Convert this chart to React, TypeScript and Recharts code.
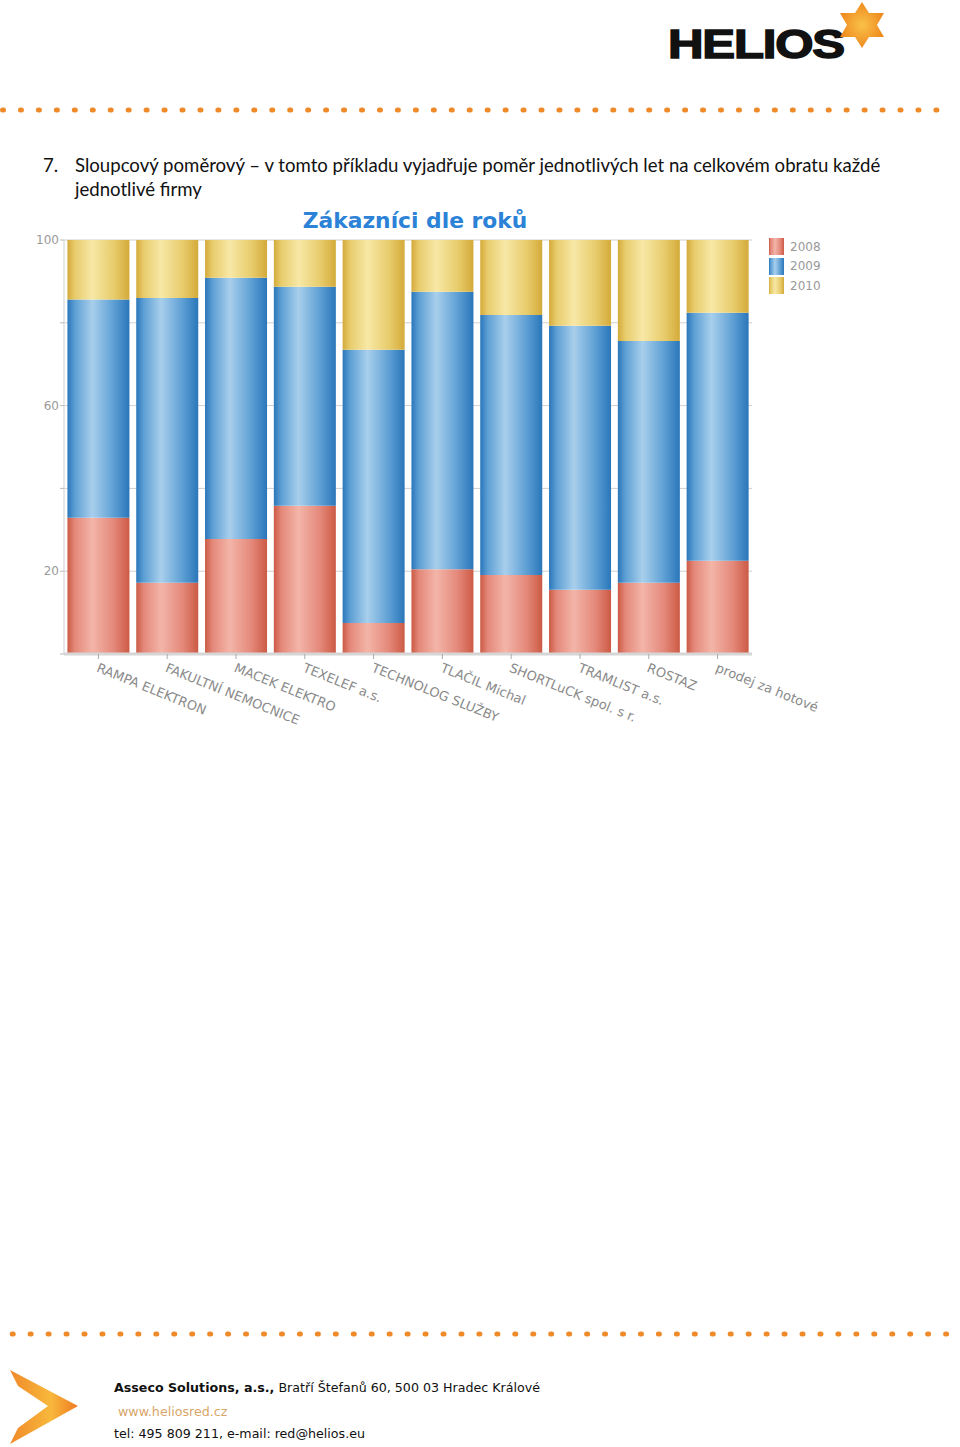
import React from 'react';
import { BarChart, Bar, XAxis, YAxis, CartesianGrid, Legend } from 'recharts';

const companies = [
  'RAMPA ELEKTRON',
  'FAKULTNÍ NEMOCNICE',
  'MACEK ELEKTRO',
  'TEXELEF a.s.',
  'TECHNOLOG SLUŽBY',
  'TLAČIL Michal',
  'SHORTLuCK spol. s r.',
  'TRAMLIST a.s.',
  'ROSTAZ',
  'prodej za hotové',
];
const share2008 = [32.9, 17.2, 27.8, 35.8, 7.5, 20.5, 19.1, 15.5, 17.2, 22.5];
const share2009 = [52.7, 68.8, 63.1, 52.9, 66.0, 67.0, 62.8, 63.8, 58.4, 59.9];
const share2010 = [14.4, 14.0, 9.1, 11.3, 26.5, 12.5, 18.1, 20.7, 24.4, 17.6];
const years = ['2008', '2009', '2010'];
const yTicks = [0, 20, 40, 60, 80, 100];
const yLabelTicks = [20, 60, 100];

const data = companies.map((name, i) => ({
  name,
  y2008: share2008[i],
  y2009: share2009[i],
  y2010: share2010[i],
}));

const palettes: Record<string, { dark: string; mid: string; light: string }> = {
  '2008': { dark: '#cc5a44', mid: '#e4887a', light: '#f3b5a8' },
  '2009': { dark: '#2a76ba', mid: '#5d9fd4', light: '#a8cfec' },
  '2010': { dark: '#d4aa3a', mid: '#e8cc6c', light: '#f7e8a6' },
};

const Grad = ({ id, p }: { id: string; p: { dark: string; mid: string; light: string } }) => (
  <linearGradient id={id} x1="0" y1="0" x2="1" y2="0">
    <stop offset="0%" stopColor={p.dark} />
    <stop offset="12%" stopColor={p.mid} />
    <stop offset="40%" stopColor={p.light} />
    <stop offset="75%" stopColor={p.mid} />
    <stop offset="100%" stopColor={p.dark} />
  </linearGradient>
);

const XTick = (props: any) => {
  const { x, y, payload } = props;
  return (
    <g transform={`translate(${x + 1},${y + 1}) rotate(22)`}>
      <text x={0} y={10} textAnchor="start" fill="#8a8a8a" fontSize={13} fontFamily="DejaVu Sans">
        {payload.value}
      </text>
    </g>
  );
};

const YTick = (props: any) => {
  const { x, y, payload } = props;
  if (!yLabelTicks.includes(payload.value)) return <g />;
  return (
    <text x={x + 1} y={y + 4} textAnchor="end" fill="#9a9a9a" fontSize={12} fontFamily="DejaVu Sans">
      {payload.value}
    </text>
  );
};

const LegendContent = () => (
  <div style={{ fontFamily: 'DejaVu Sans', fontSize: 12, color: '#999' }}>
    {years.map((yr) => (
      <div key={yr} style={{ display: 'flex', alignItems: 'center', height: 19.5 }}>
        <svg width={15} height={17} style={{ marginRight: 6 }}>
          <rect x={0} y={0} width={15} height={17} fill={`url(#g${yr})`} />
        </svg>
        <span>{yr}</span>
      </div>
    ))}
  </div>
);

const dotXs = (start: number, end: number, step: number) => {
  const arr: number[] = [];
  for (let x = start; x <= end; x += step) arr.push(x);
  return arr;
};

const DotLine = ({ top, start, end }: { top: number; start: number; end: number }) => (
  <svg width={960} height={10} style={{ position: 'absolute', left: 0, top: top - 5 }}>
    {dotXs(start, end, 17.95).map((x, i) => (
      <rect key={i} x={x - 3} y={2.5} width={6} height={5} rx={2.5} fill="#ef8a2a" />
    ))}
  </svg>
);

export default function App() {
  return (
    <div
      style={{
        position: 'absolute',
        left: 0,
        top: 0,
        width: 960,
        height: 1447,
        background: '#fff',
        overflow: 'hidden',
      }}
    >
      {/* header logo */}
      <div
        style={{
          position: 'absolute',
          left: 668,
          top: 21,
          fontFamily: 'Liberation Sans',
          fontWeight: 900,
          fontSize: 41,
          color: '#111',
          transform: 'scaleX(1.2)',
          transformOrigin: 'left top',
          letterSpacing: -1,
          WebkitTextStroke: '1.5px #111',
        }}
      >
        HELIOS
      </div>
      <svg width={60} height={60} style={{ position: 'absolute', left: 834, top: 0 }}>
        <defs>
          <radialGradient id="star" cx="0.5" cy="0.5" r="0.5">
            <stop offset="0%" stopColor="#f9c24a" />
            <stop offset="100%" stopColor="#ef8a1e" />
          </radialGradient>
        </defs>
        <polygon points="28,2 35,13 50,13 43,25 50,37 35,37 28,48 21,37 6,37 13,25 6,13 21,13" fill="url(#star)" />
      </svg>
      <DotLine top={109.5} start={3} end={946} />

      {/* heading text */}
      <div
        style={{
          position: 'absolute',
          left: 43,
          top: 153,
          fontFamily: 'Lato',
          fontSize: 18.6,
          color: '#111',
          lineHeight: '24px',
        }}
      >
        <span style={{ position: 'absolute', left: 0, top: 0 }}>7.</span>
        <div style={{ position: 'absolute', left: 32, top: 0, width: 880, whiteSpace: 'nowrap' }}>
          Sloupcový poměrový – v tomto příkladu vyjadřuje poměr jednotlivých let na celkovém obratu každé
          <br />
          jednotlivé firmy
        </div>
      </div>

      {/* chart title */}
      <div
        style={{
          position: 'absolute',
          left: 290,
          top: 208,
          width: 250,
          textAlign: 'center',
          fontFamily: 'DejaVu Sans',
          fontWeight: 'bold',
          fontSize: 21.8,
          color: '#2b82d6',
          whiteSpace: 'nowrap',
        }}
      >
        Zákazníci dle roků
      </div>

      <div style={{ position: 'absolute', left: 0, top: 200 }}>
        <BarChart
          width={840}
          height={530}
          data={data}
          margin={{ top: 40, right: 88, bottom: 6, left: 0 }}
          barCategoryGap="5%"
        >
          <defs>
            {years.map((yr) => (
              <Grad key={yr} id={`g${yr}`} p={palettes[yr]} />
            ))}
          </defs>
          <CartesianGrid vertical={false} stroke="#d0d0d0" />
          <XAxis
            dataKey="name"
            interval={0}
            height={70}
            tick={<XTick />}
            axisLine={{ stroke: '#d6d6d6', strokeWidth: 3 }}
            tickLine={{ stroke: '#aaa' }}
            tickSize={5}
          />
          <YAxis
            width={64}
            domain={[0, 100]}
            ticks={yTicks}
            tick={<YTick />}
            axisLine={{ stroke: '#cfcfcf' }}
            tickLine={{ stroke: '#bbb' }}
            tickSize={4}
            allowDataOverflow
          />
          <Legend
            layout="vertical"
            align="center"
            verticalAlign="middle"
            content={<LegendContent />}
            wrapperStyle={{ position: 'absolute', left: 769, top: 37, width: 60 }}
          />
          <Bar dataKey="y2008" stackId="a" fill="url(#g2008)" isAnimationActive={false} />
          <Bar dataKey="y2009" stackId="a" fill="url(#g2009)" isAnimationActive={false} />
          <Bar dataKey="y2010" stackId="a" fill="url(#g2010)" isAnimationActive={false} />
        </BarChart>
      </div>

      {/* footer */}
      <DotLine top={1333.5} start={12.7} end={954} />
      <svg width={80} height={80} style={{ position: 'absolute', left: 8, top: 1368 }}>
        <defs>
          <linearGradient id="arrowG" x1="0" y1="0" x2="1" y2="0">
            <stop offset="0%" stopColor="#f0892a" />
            <stop offset="60%" stopColor="#f8b83c" />
            <stop offset="100%" stopColor="#ef7a22" />
          </linearGradient>
        </defs>
        <polygon points="2,2 70,38 2,76 10,60 40,38 10,18" fill="url(#arrowG)" />
      </svg>
      <div
        style={{
          position: 'absolute',
          left: 114,
          top: 1380,
          fontFamily: 'DejaVu Sans',
          fontSize: 12.65,
          color: '#111',
          whiteSpace: 'nowrap',
        }}
      >
        <b>Asseco Solutions, a.s.,</b> Bratří Štefanů 60, 500 03 Hradec Králové
      </div>
      <div
        style={{
          position: 'absolute',
          left: 118,
          top: 1404,
          fontFamily: 'DejaVu Sans',
          fontSize: 12.65,
          color: '#d8a66a',
          whiteSpace: 'nowrap',
        }}
      >
        www.heliosred.cz
      </div>
      <div
        style={{
          position: 'absolute',
          left: 114,
          top: 1426,
          fontFamily: 'DejaVu Sans',
          fontSize: 12.65,
          color: '#111',
          whiteSpace: 'nowrap',
        }}
      >
        tel: 495 809 211, e-mail: red@helios.eu
      </div>
    </div>
  );
}
